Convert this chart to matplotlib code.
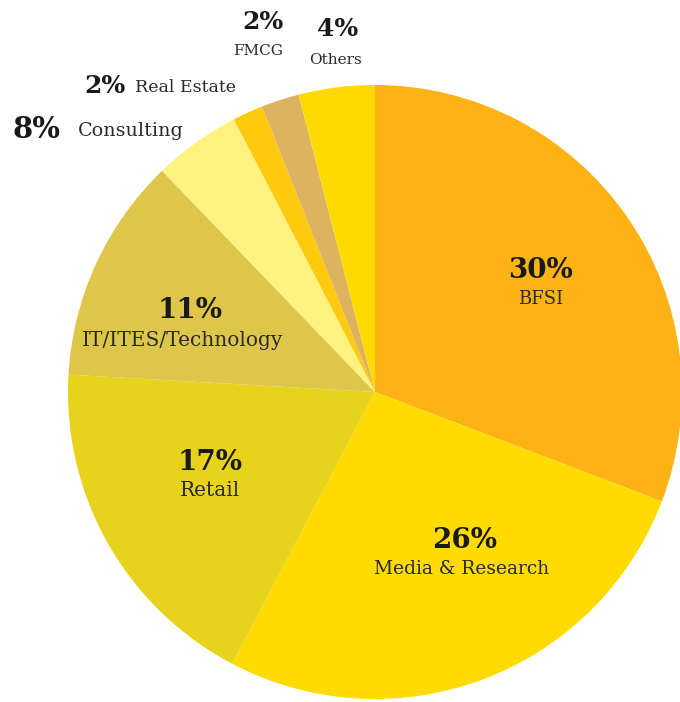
import matplotlib
matplotlib.use("Agg")
import matplotlib.pyplot as plt

# Data
categories = ["BFSI", "Media & Research", "Retail", "IT/ITES/Technology",
              "Consulting", "Real Estate", "FMCG", "Others"]
slice_sizes = [30.8, 26.9, 18.2, 11.9, 4.6, 1.6, 2.0, 4.0]
pct_labels = ["30%", "26%", "17%", "11%", "8%", "2%", "2%", "4%"]
colors = ["#FDB316", "#FFDB00", "#E8D31C", "#DEC64A",
          "#FFF27F", "#FFC90E", "#DEB35F", "#FFDA00"]

W, H = 680, 702
fig = plt.figure(figsize=(W / 100, H / 100), dpi=100)
ax = fig.add_axes([0, 0, 1, 1])

cx, cy, r = 375, H - 392, 307
ax.pie(slice_sizes, colors=colors, startangle=90, counterclock=False,
       center=(cx, cy), radius=r, wedgeprops=dict(linewidth=0))
ax.set_xlim(0, W)
ax.set_ylim(0, H)
ax.set_aspect("equal")
ax.axis("off")

serif = "DejaVu Serif"
pct_kw = dict(fontfamily=serif, fontweight="bold", color="#1a1a1a")
lab_kw = dict(fontfamily=serif, color="#2a2a2a")

# inside labels: (pct pos, label pos, label size)
inside = {
    0: ((541, 270), (541, 299), 13),
    1: ((465, 540), (462, 569), 13.4),
    2: ((210, 462), (210, 490), 14.5),
    3: ((190, 311), (183, 341), 14.5),
}
for i, ((px, py), (lx, ly), fs) in inside.items():
    ax.text(px, H - py, pct_labels[i], ha="center", va="center", fontsize=20, **pct_kw)
    ax.text(lx, H - ly, categories[i], ha="center", va="center", fontsize=fs, **lab_kw)

# outside labels
ax.text(36, H - 130, pct_labels[4], ha="center", va="center", fontsize=21, **pct_kw)
ax.text(78, H - 131, categories[4], ha="left", va="center", fontsize=13.8, **lab_kw)
ax.text(105, H - 86, pct_labels[5], ha="center", va="center", fontsize=18, **pct_kw)
ax.text(135, H - 88, categories[5], ha="left", va="center", fontsize=12.5, **lab_kw)
ax.text(263, H - 22, pct_labels[6], ha="center", va="center", fontsize=18, **pct_kw)
ax.text(258, H - 51, categories[6], ha="center", va="center", fontsize=11, **lab_kw)
ax.text(338, H - 29, pct_labels[7], ha="center", va="center", fontsize=18, **pct_kw)
ax.text(335, H - 60, categories[7], ha="center", va="center", fontsize=11, **lab_kw)

fig.savefig("out.png", dpi=100, facecolor="white")
